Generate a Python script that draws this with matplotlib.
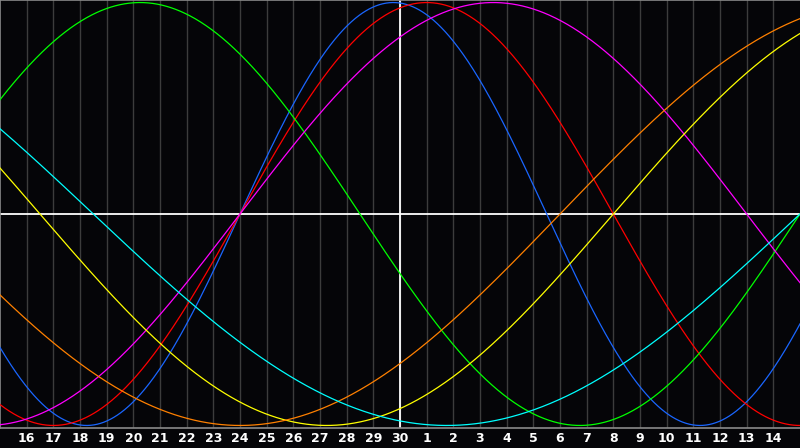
import numpy as np
import matplotlib
matplotlib.use("Agg")
import matplotlib.pyplot as plt

# biorhythm cycles: period in days, day index where the cycle crosses zero going up
periods = [23, 28, 33, 38, 43, 48, 53]
zero_up = [9, 9, 30, 9, 23, 21, 30]
colors = ["#1a66ff", "#ff0000", "#00ff00", "#ff00ff", "#ffff00", "#ff8000", "#00ffff"]

day_labels = [str(d) for d in range(16, 31)] + [str(d) for d in range(1, 15)]
n_days = 30
today = 15

fig = plt.figure(figsize=(8, 4.48), dpi=100)
fig.patch.set_facecolor("#050508")
ax = fig.add_axes([0, 20 / 448, 1, 428 / 448])
ax.set_facecolor("#050508")

# vertical day grid
for k in range(1, n_days):
    ax.axvline(k, color="#3c3c3c", lw=1, zorder=1)

x = np.linspace(0, n_days, 1201)
for p, z, c in zip(periods, zero_up, colors):
    y = np.sin(2 * np.pi * (x - z) / p)
    ax.plot(x, y, color=c, lw=0.9, zorder=3)

ax.axhline(0, color="white", lw=1.3, zorder=2)
ax.axvline(today, color="white", lw=1.3, zorder=2)

ax.set_xlim(0, n_days)
ax.set_ylim(-1.012, 1.012)
ax.set_yticks([])
ax.set_xticks(range(1, n_days))
ax.set_xticklabels(day_labels, color="white", fontsize=9, fontweight="bold")
ax.tick_params(axis="x", length=0, pad=3)
for s in ax.spines.values():
    s.set_color("#8a8a8a")
    s.set_linewidth(1.2)
ax.spines["right"].set_visible(False)

fig.savefig("out.png", dpi=100, facecolor=fig.get_facecolor())
